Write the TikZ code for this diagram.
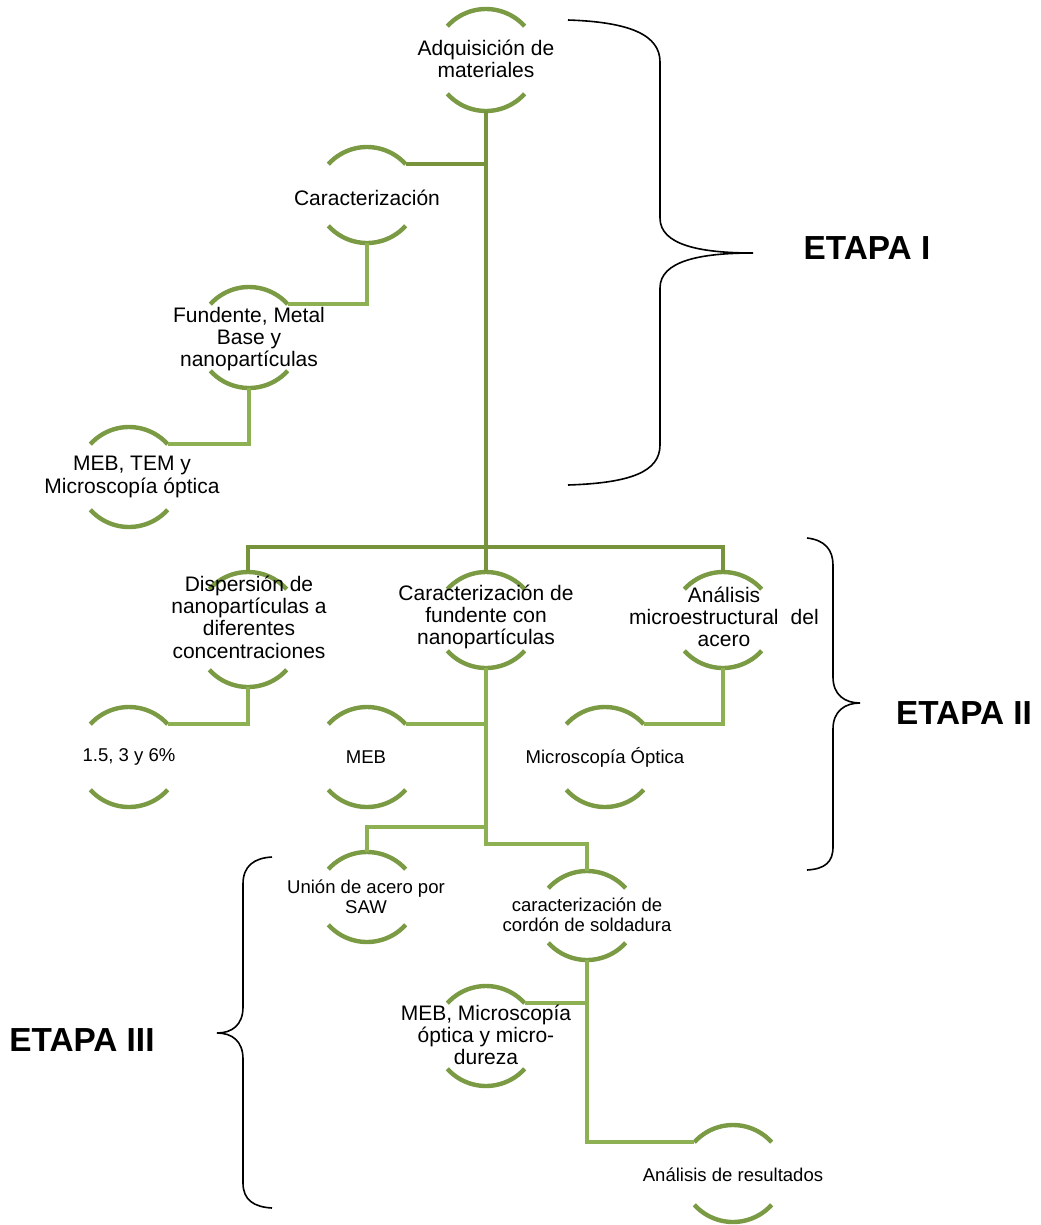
\documentclass[tikz,border=0pt]{standalone}
\usepackage{fontspec}
\setmainfont{Liberation Sans}
\usetikzlibrary{calc}
\definecolor{arcg}{HTML}{7A9A44}
\definecolor{dkg}{HTML}{77933C}
\definecolor{ltg}{HTML}{8DB052}
\tikzset{
  ringbox/.style={draw=none, rectangle, minimum width=78pt, inner sep=0pt, outer sep=0pt},
  arcline/.style={draw=arcg, line width=3.3pt},
  dkline/.style={draw=dkg, line width=3pt},
  ltline/.style={draw=ltg, line width=3pt},
  lbl/.style={align=center, inner sep=0pt, text=black, font=\fontsize{15.75}{16.7}\selectfont},
  slbl/.style={align=center, inner sep=0pt, text=black, font=\fontsize{13.9}{15}\selectfont},
  etapa/.style={inner sep=0pt, text=black, font=\fontsize{25}{29}\selectfont\bfseries},
  bracel/.style={draw=black, line width=1.2pt},
}
\newcommand\ring[4]{%
  \node[ringbox, minimum height={(#4-#3)*0.75pt}] (#1) at (#2,{-(#3+#4)/2}) {};
  \draw[arcline] ([yshift=-39pt]#1.north) ++(42:52) arc[start angle=42,end angle=138,radius=52];
  \draw[arcline] ([yshift=39pt]#1.south) ++(222:52) arc[start angle=222,end angle=318,radius=52];
  \coordinate (#1-tr) at ($(#1.north)+(38.64,-17.2)$);
  \coordinate (#1-tl) at ($(#1.north)+(-38.64,-17.2)$);
}
\begin{document}
\begin{tikzpicture}[x=0.75pt,y=0.75pt]
\fill[white] (0,0) rectangle (1040,-1225);
\useasboundingbox (0,0) rectangle (1040,-1225);

% rings
\ring{adq}{486}{9}{111}
\ring{car}{367}{147}{243}
\ring{fun}{249}{287}{388}
\ring{mt}{129}{427}{527}
\ring{dis}{248}{572}{687}
\ring{cfn}{486}{572}{668}
\ring{ana}{723}{572}{668}
\ring{pct}{129}{707}{807}
\ring{meb}{367}{707}{807}
\ring{mo}{605}{707}{807}
\ring{uni}{367}{852}{942}
\ring{cc}{587}{871}{960}
\ring{mmd}{486}{986}{1086}
\ring{res}{733}{1125}{1222}

% connectors (dark)
\draw[dkline] (adq.south) -- (cfn.north);
\draw[dkline] (car-tr) -- (car-tr -| adq.south);
\draw[dkline] (dis.north) -- ++(0,25) -| (ana.north);

% connectors (light)
\draw[ltline] (car.south) |- (fun-tr);
\draw[ltline] (fun.south) |- (mt-tr);
\draw[ltline] (dis.south) |- (pct-tr);
\draw[ltline] (meb-tr) -- (meb-tr -| cfn.south);
\draw[ltline] (ana.south) |- (mo-tr);
\draw[ltline] (cfn.south) |- ([yshift=20.25pt]cc.north) -- (cc.north);
\draw[ltline] (uni.north) -- ++(0,25) -| (cfn.south);
\draw[ltline] (cc.south) |- (res-tl);
\draw[ltline] (mmd-tr) -- (mmd-tr -| cc.south);

% labels
\node[lbl] (t-adq) at (486,-59) {Adquisición de\\materiales};
\node[lbl] (t-car) at (367,-198) {Caracterización};
\node[lbl] (t-fun) at (249,-339) {Fundente, Metal\\Base y\\nanopartículas};
\node[lbl] (t-mt) at (132,-477) {MEB, TEM y\\Microscopía óptica};
\node[lbl] (t-dis) at (249,-617) {Dispersión de\\nanopartículas a\\diferentes\\concentraciones};
\node[lbl] (t-cfn) at (486,-617) {Caracterización de\\fundente con\\nanopartículas};
\node[lbl] (t-ana) at (724,-617) {Análisis\\microestructural\hspace{0.3em} del\\acero};
\node[slbl] (t-pct) at (129,-757) {1.5, 3 y 6\%};
\node[slbl] (t-meb) at (366,-757) {MEB};
\node[slbl] (t-mo) at (605,-757) {Microscopía Óptica};
\node[slbl] (t-uni) at (366,-897) {Unión de acero por\\SAW};
\node[slbl] (t-cc) at (587,-915) {caracterización de\\cordón de soldadura};
\node[lbl] (t-mmd) at (486,-1035) {MEB, Microscopía\\óptica y micro-\\dureza};
\node[slbl] (t-res) at (733,-1175) {Análisis de resultados};

% braces
\draw[bracel] (568,-20) .. controls (630,-22) and (660,-35) .. (660,-62) -- (660,-218)
  .. controls (660,-245) and (700,-253) .. (753,-253)
  .. controls (700,-253) and (660,-261) .. (660,-288) -- (660,-445)
  .. controls (660,-472) and (630,-483) .. (568,-485);
\draw[bracel] (807,-538) .. controls (825,-540) and (833,-550) .. (833,-565) -- (833,-677)
  .. controls (833,-695) and (845,-703) .. (860,-703)
  .. controls (845,-703) and (833,-711) .. (833,-729) -- (833,-847)
  .. controls (833,-862) and (825,-869) .. (807,-870);
\draw[bracel] (272,-857) .. controls (254,-858) and (243,-866) .. (243,-884) -- (243,-1007)
  .. controls (243,-1025) and (232,-1033) .. (217,-1033)
  .. controls (232,-1033) and (243,-1041) .. (243,-1059) -- (243,-1183)
  .. controls (243,-1200) and (254,-1207) .. (272,-1208);

\node[etapa] (e1) at (867,-248) {ETAPA I};
\node[etapa] (e2) at (964,-713) {ETAPA II};
\node[etapa] (e3) at (82,-1040) {ETAPA III};
\end{tikzpicture}
\end{document}
